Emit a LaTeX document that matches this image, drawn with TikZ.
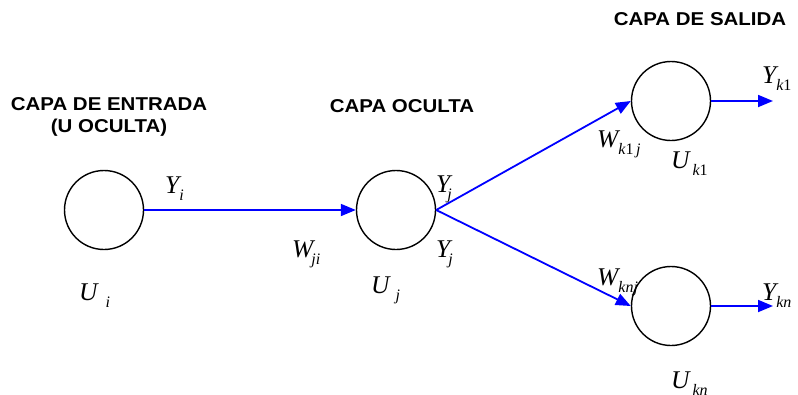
\documentclass[tikz,border=0pt]{standalone}
\usepackage{fontspec}
\setmainfont{Liberation Serif}
\newfontfamily\hdfont{Liberation Sans}
\usetikzlibrary{arrows.meta}
\newcommand{\lab}[3][0pt]{{\fontsize{25.5}{26}\selectfont\itshape #2}\hspace*{#1}\raisebox{-7.5pt}{\fontsize{16}{16}\selectfont #3}}
\begin{document}
\begin{tikzpicture}[x=1pt,y=-1pt,
  neuron/.style={circle,draw=black,line width=1.4pt,minimum size=79pt,inner sep=0pt},
  link/.style={draw=blue,line width=1.8pt,-{Triangle[length=15pt,width=12pt]}},
  hd/.style={font=\hdfont\bfseries\fontsize{18.6}{22}\selectfont,align=center,inner sep=0pt},
  lbl/.style={anchor=base west,inner sep=0pt}]
\useasboundingbox (0,0) rectangle (798,394);
\node[neuron] (ui) at (104,210) {};
\node[neuron] (uj) at (396,210) {};
\node[neuron] (uk1) at (671,101) {};
\node[neuron] (ukn) at (671,306) {};
\coordinate (o1) at (773,101);
\coordinate (o2) at (773,306);
\draw[link] (ui.east) -- (uj.west);
\draw[link] (uj.east) -- (uk1.west);
\draw[link] (uj.east) -- (ukn.west);
\draw[link] (uk1.east) -- (o1);
\draw[link] (ukn.east) -- (o2);
\node[hd] (h1) at (109,117) {\scalebox{1.1}[1]{CAPA DE ENTRADA}\\\scalebox{1.1}[1]{(U OCULTA)}};
\node[hd] (h2) at (402,106) {\scalebox{1.1}[1]{CAPA OCULTA}};
\node[hd] (h3) at (700,19) {\scalebox{1.1}[1]{CAPA DE SALIDA}};
\node[lbl] (yi) at (165,193) {\lab{Y}{\itshape i}};
\node[lbl] (wji) at (292,257) {\lab[-2pt]{W}{\itshape ji}};
\node[lbl] (yj1) at (436,192) {\lab[-3pt]{Y}{\itshape j}};
\node[lbl] (yj2) at (436,257) {\lab[-2pt]{Y}{\itshape j}};
\node[lbl] (uj2) at (371,293) {\lab[6pt]{U}{\itshape j}};
\node[lbl] (ui2) at (79,300) {\lab[8pt]{U}{\itshape i}};
\node[lbl] (wk1j) at (597,147) {\lab{W}{\itshape k\upshape 1\itshape\,j}};
\node[lbl] (uk12) at (671,168) {\lab[3pt]{U}{\itshape k\upshape 1}};
\node[lbl] (yk1) at (762,83) {\lab{Y}{\itshape k\upshape 1}};
\node[lbl] (wknj) at (597,285) {\lab{W}{\itshape knj}};
\node[lbl] (ykn) at (762,300) {\lab{Y}{\itshape kn}};
\node[lbl] (ukn2) at (671,388) {\lab[3pt]{U}{\itshape kn}};
\end{tikzpicture}
\end{document}
